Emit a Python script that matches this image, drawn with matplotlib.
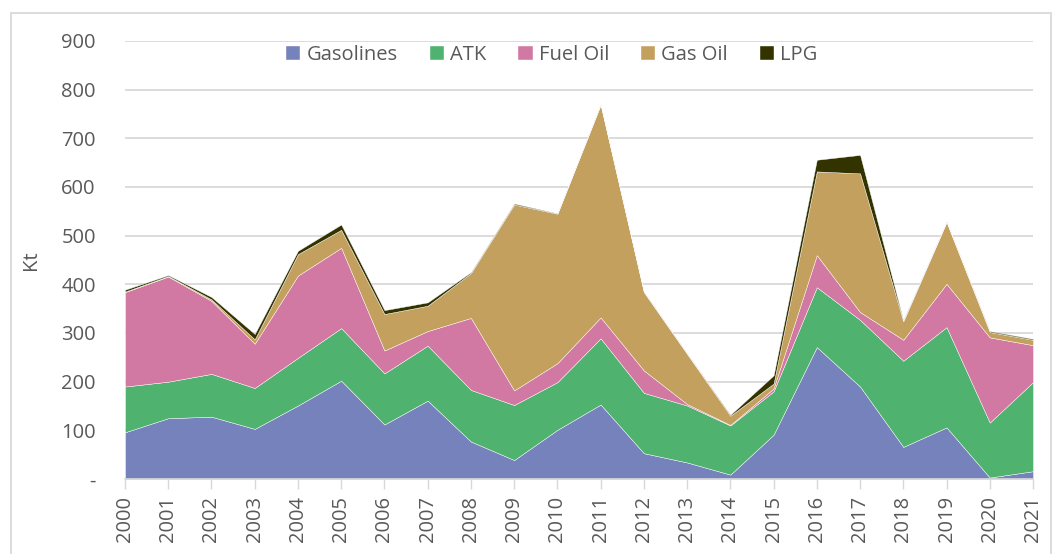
import matplotlib
matplotlib.use("Agg")
import matplotlib.pyplot as plt
from matplotlib.patches import Rectangle
import numpy as np

years = list(range(2000, 2022))
gasolines = [96, 125, 128, 103, 151, 202, 112, 161, 77, 39, 101, 153, 53, 34, 9, 91, 271, 190, 66, 106, 3, 16]
atk       = [94, 75, 88, 84, 98, 108, 105, 113, 106, 113, 98, 136, 124, 117, 101, 89, 123, 137, 177, 206, 113, 183]
fuel_oil  = [194, 216, 150, 91, 169, 165, 47, 30, 148, 30, 39, 43, 46, 3, 1, 6, 66, 16, 43, 89, 175, 76]
gas_oil   = [1, 1, 3, 9, 44, 37, 75, 52, 92, 382, 307, 437, 161, 103, 19, 10, 172, 285, 38, 127, 11, 11]
lpg       = [4, 2, 5, 11, 7, 11, 8, 7, 2, 2, 1, 1, 1, 1, 2, 17, 24, 38, 2, 1, 2, 2]

series_names = ["Gasolines", "ATK", "Fuel Oil", "Gas Oil", "LPG"]
colors = ["#7682BC", "#4FB26E", "#D279A3", "#C4A05E", "#333300"]
yticks = [0, 100, 200, 300, 400, 500, 600, 700, 800, 900]
ytick_labels = ["-", "100", "200", "300", "400", "500", "600", "700", "800", "900"]

plt.rcParams['font.family'] = ['Open Sans', 'DejaVu Sans']

W, H = 1052, 554
fig = plt.figure(figsize=(W / 100, H / 100), dpi=100)
ax = fig.add_axes([125 / W, (H - 479) / H, (1033 - 125) / W, (479 - 41) / H])

x = np.arange(len(years))
ax.stackplot(x, gasolines, atk, fuel_oil, gas_oil, lpg, colors=colors,
             labels=series_names, edgecolor="white", linewidth=0.3, zorder=2)

ax.set_xlim(0, len(years) - 1)
ax.set_ylim(0, 900)
ax.set_yticks(yticks)
ax.set_yticklabels(ytick_labels)
ax.set_xticks(x)
ax.set_xticklabels([str(y) for y in years], rotation=90)

txt_color = "#595959"
ax.tick_params(axis="y", length=0, pad=21, labelsize=14.5, labelcolor=txt_color)
ax.tick_params(axis="x", length=7, width=1, color="#D9D9D9", pad=5,
               labelsize=14.5, labelcolor=txt_color)
ax.grid(axis="y", color="#D9D9D9", linewidth=1.3, zorder=0)
ax.set_axisbelow(True)
for s in ["left", "right", "top"]:
    ax.spines[s].set_visible(False)
ax.spines["bottom"].set_color("#D9D9D9")
ax.spines["bottom"].set_linewidth(1.2)
ax.spines["bottom"].set_zorder(3)

ax.set_ylabel("Kt", fontsize=14.5, color=txt_color)
ax.yaxis.set_label_coords((41 - 125) / (1033 - 125), 0.5)

leg = ax.legend(loc="upper center",
                bbox_to_anchor=((552 - 125) / (1033 - 125), 1.0 + 8 / 438),
                ncol=5, frameon=False, fontsize=14.5, handlelength=0.7, handleheight=0.7,
                handletextpad=0.3, columnspacing=1.6, borderaxespad=0.2)
for t in leg.get_texts():
    t.set_color(txt_color)

fig.patches.append(Rectangle((11 / W, -0.1), (1051 - 11) / W, (H - 13) / H + 0.1,
                             transform=fig.transFigure, fill=False,
                             edgecolor="#D9D9D9", linewidth=1.3))

fig.savefig("out.png", dpi=100)
